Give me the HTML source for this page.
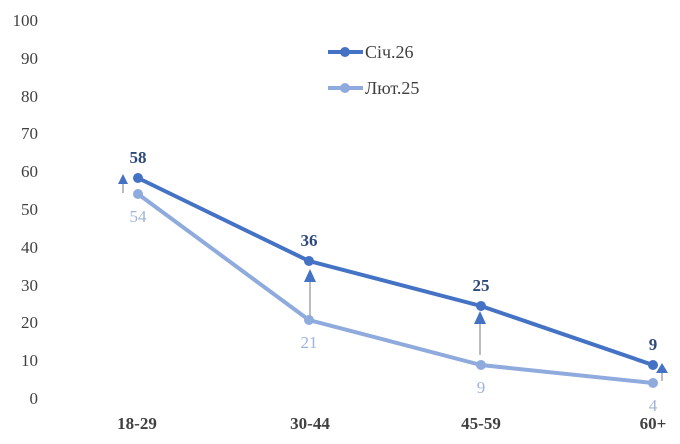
<!DOCTYPE html>
<html><head><meta charset="utf-8"><style>
body{margin:0;background:#fff}
svg{display:block;font-family:"Liberation Serif",serif}
</style></head><body>
<svg width="680" height="444" viewBox="0 0 680 444">
<g font-size="17" fill="#404040" text-anchor="end">
<text x="38" y="26">100</text><text x="38" y="64">90</text><text x="38" y="102">80</text>
<text x="38" y="139">70</text><text x="38" y="177">60</text><text x="38" y="215">50</text>
<text x="38" y="253">40</text><text x="38" y="291">30</text><text x="38" y="328">20</text>
<text x="38" y="366">10</text><text x="38" y="404">0</text>
</g>
<g font-size="17" font-weight="bold" fill="#404040" text-anchor="middle">
<text x="137" y="429">18-29</text><text x="310" y="429">30-44</text>
<text x="481" y="429">45-59</text><text x="653" y="429">60+</text>
</g>
<g stroke="#a6a6a6" stroke-width="1.5">
<line x1="123" y1="193" x2="123" y2="182"/>
<line x1="310" y1="316" x2="310" y2="280"/>
<line x1="480" y1="355" x2="480" y2="322"/>
<line x1="662" y1="381" x2="662" y2="372"/>
</g>
<g fill="#4472c4">
<polygon points="118,184 128,184 123,174"/>
<polygon points="304,282 316,282 310,269"/>
<polygon points="474,324 486,324 480,311"/>
<polygon points="656,373 668,373 662,363"/>
</g>
<polyline points="138,194 309,320 481,365 653,383" fill="none" stroke="#8faadc" stroke-width="4"/>
<polyline points="138,178 309,261 481,306 653,365" fill="none" stroke="#4472c4" stroke-width="4"/>
<g fill="#8faadc"><circle cx="138" cy="194" r="5"/><circle cx="309" cy="320" r="5"/><circle cx="481" cy="365" r="5"/><circle cx="653" cy="383" r="5"/></g>
<g fill="#4472c4"><circle cx="138" cy="178" r="5"/><circle cx="309" cy="261" r="5"/><circle cx="481" cy="306" r="5"/><circle cx="653" cy="365" r="5"/></g>
<g font-size="17" font-weight="bold" fill="#2f4a7a" text-anchor="middle">
<text x="138" y="163">58</text><text x="309" y="246">36</text><text x="481" y="291">25</text><text x="653" y="350">9</text>
</g>
<g font-size="17" fill="#9fb3d9" text-anchor="middle">
<text x="138" y="222">54</text><text x="309" y="348">21</text><text x="481" y="393">9</text><text x="653" y="411">4</text>
</g>
<line x1="328" y1="52" x2="363" y2="52" stroke="#4472c4" stroke-width="4"/><circle cx="345" cy="52" r="5" fill="#4472c4"/>
<text x="365" y="58" font-size="18" fill="#404040">Січ.26</text>
<line x1="328" y1="88" x2="363" y2="88" stroke="#8faadc" stroke-width="4"/><circle cx="345" cy="88" r="5" fill="#8faadc"/>
<text x="365" y="94" font-size="18" fill="#404040">Лют.25</text>
</svg>
</body></html>
